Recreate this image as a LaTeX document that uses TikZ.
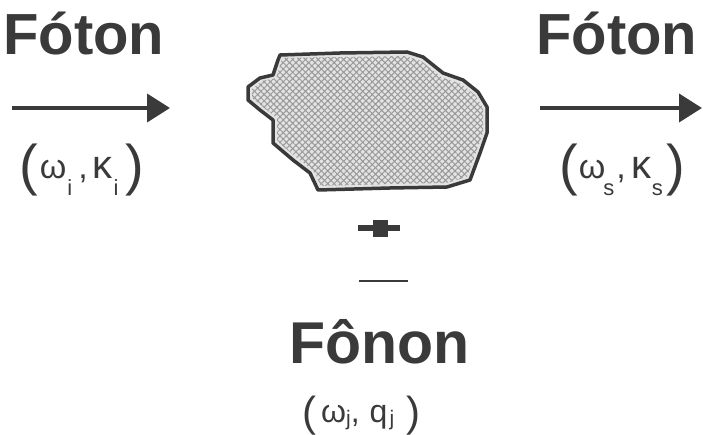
\documentclass[tikz,border=0pt]{standalone}
\usepackage{fontspec}
\setmainfont{Liberation Sans}
\usetikzlibrary{arrows.meta,patterns.meta}
\definecolor{ink}{RGB}{58,58,58}
\newcommand\bigpar[1]{\raisebox{-6pt}{\fontsize{56}{56}\selectfont #1}}
\newcommand\lowsub[1]{\raisebox{-17pt}{\fontsize{22}{22}\selectfont #1}}
\newcommand\midpar[1]{\raisebox{-4pt}{\fontsize{42}{42}\selectfont #1}}
\newcommand\smsub[1]{\raisebox{-3pt}{\fontsize{21}{21}\selectfont #1}}
\newcommand\bigkappa{{\fontsize{40}{40}\selectfont κ}}
\begin{document}
\begin{tikzpicture}[x=1pt,y=-1pt,
  title/.style={inner sep=0pt,anchor=base west,text=ink,font=\fontsize{58}{60}\selectfont\bfseries},
  qlabel/.style={inner sep=0pt,anchor=base west,text=ink,font=\fontsize{34}{36}\selectfont},
  photon/.style={draw=ink,line width=4pt,-{Triangle[length=23pt,width=28pt]}},
  blob/.style={draw=ink,line width=3.5pt,line join=round,fill=gray!22},
  bar/.style={fill=ink}
]
\useasboundingbox (0,0) rectangle (703,435);

% titles
\node[title] (fin) at (3,55) {Fóton};
\node[title] (fout) at (536,55) {Fóton};
\node[title,font=\fontsize{59}{60}\selectfont\bfseries] (fonon) at (289,363) {Fônon};

% arrows
\coordinate (a1) at (12,108);
\coordinate (b1) at (170,108);
\coordinate (a2) at (540,108);
\coordinate (b2) at (702,108);
\draw[photon] (a1) -- (b1);
\draw[photon] (a2) -- (b2);

% labels
\node[qlabel] (kin) at (19,179) {\bigpar{(}\hspace{2pt}ω\hspace{1pt}\lowsub{i}\hspace{6pt},\hspace{5pt}\bigkappa\hspace{1pt}\lowsub{i}\hspace{7pt}\bigpar{)}};
\node[qlabel] (kout) at (559,179) {\bigpar{(}\hspace{1pt}ω\hspace{-2pt}\lowsub{s}\hspace{2pt},\hspace{6pt}\bigkappa\lowsub{s}\hspace{4pt}\bigpar{)}};
\node[qlabel,font=\fontsize{32}{34}\selectfont] (qph) at (302,422) {\midpar{(}\hspace{5pt}ω\smsub{j},\hspace{10pt}q\hspace{2pt}\smsub{j}\hspace{12pt}\midpar{)}};

% crystal
\path[blob] (280,55) -- (340,53) -- (407,52) -- (423,57) -- (443,73) -- (463,80) -- (478,92)
  -- (487,107) -- (487,133) -- (480,153) -- (470,180) -- (447,187) -- (390,188) -- (318,190)
  -- (310,173) -- (293,160) -- (273,143) -- (273,120) -- (260,110) -- (248,100) -- (248,87)
  -- (260,78) -- (273,75) -- (278,60) -- cycle;
\path[pattern={Hatch[angle=45,distance=4.5pt,line width=1pt]},pattern color=gray!80]
  (282,58) -- (405,56) -- (421,61) -- (441,77) -- (461,84) -- (475,95)
  -- (483,108) -- (483,133) -- (476,152) -- (467,177) -- (446,183) -- (390,184) -- (321,186)
  -- (313,170) -- (296,157) -- (277,141) -- (277,118) -- (263,107) -- (252,98) -- (252,89)
  -- (262,81) -- (276,78) -- (281,62) -- cycle;
\node[inner sep=0pt] (crystal) at (367,120) {};

% plus and minus
\path[bar] (358,225) rectangle (400,231);
\path[bar] (373,220) rectangle (388,237);
\coordinate (m1) at (359,281);
\coordinate (m2) at (408,281);
\draw[ink,line width=1.5pt] (m1) -- (m2);
\end{tikzpicture}
\end{document}
